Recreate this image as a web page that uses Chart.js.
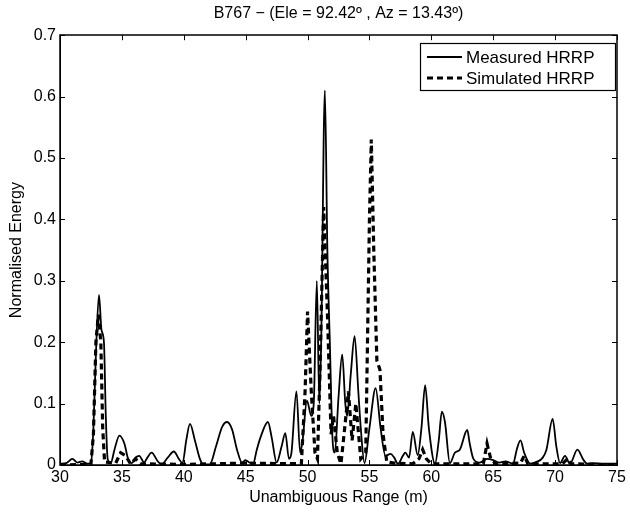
<!DOCTYPE html>
<html>
<head>
<meta charset="utf-8">
<script src="https://cdn.jsdelivr.net/npm/chart.js@4/dist/chart.umd.min.js"></script>
<style>
  html, body { margin: 0; padding: 0; background: #fff; }
  #wrap { width: 630px; height: 515px; }
</style>
</head>
<body>
<div id="wrap"><canvas id="hrrpChart" width="630" height="515"></canvas></div>
<script>
// Measured HRRP (solid line)
const measuredRange = [30.0, 30.5, 31.0, 31.4, 31.8, 32.2, 32.5, 32.7, 32.9, 33.15, 33.35, 33.55, 33.7, 33.85, 34.1, 34.4, 34.8, 35.2, 35.5, 35.8,
  36.1, 36.4, 36.8, 37.0, 37.4, 37.9, 38.2, 38.7, 39.2, 39.6, 39.9, 40.2, 40.5, 40.9, 41.3, 41.6, 42.1, 42.6, 43.1, 43.5,
  43.9, 44.3, 44.7, 45.0, 45.3, 45.6, 45.9, 46.2, 46.8, 47.1, 47.5, 47.9, 48.2, 48.5, 48.7, 49.1, 49.4, 49.6, 49.95, 50.3,
  50.5, 50.75, 50.95, 51.1, 51.4, 51.6, 51.8, 52.0, 52.2, 52.5, 52.8, 53.05, 53.2, 53.5, 53.8, 54.1, 54.3, 54.6, 55.0, 55.5,
  55.9, 56.3, 56.7, 57.0, 57.3, 57.7, 57.9, 58.2, 58.5, 58.9, 59.2, 59.5, 59.8, 60.3, 60.6, 60.85, 61.1, 61.5, 61.9, 62.3,
  62.9, 63.1, 63.4, 63.9, 64.5, 65.0, 65.5, 66.0, 66.6, 66.9, 67.2, 67.5, 68.0, 68.5, 69.0, 69.3, 69.8, 70.1, 70.4, 70.8,
  71.2, 71.8, 72.3, 72.6, 73.0, 74.0, 75.0];
const measuredEnergy = [0.002, 0.003, 0.010, 0.004, 0.006, 0.002, 0.004, 0.06, 0.18, 0.277, 0.22, 0.20, 0.08, 0.01, 0.003, 0.025, 0.048, 0.035, 0.01, 0.003,
  0.012, 0.015, 0.004, 0.01, 0.02, 0.006, 0.001, 0.012, 0.022, 0.01, 0.003, 0.04, 0.067, 0.04, 0.01, 0.001, 0.001, 0.03, 0.062, 0.07,
  0.058, 0.025, 0.004, 0.008, 0.004, 0.002, 0.025, 0.045, 0.07, 0.045, 0.004, 0.03, 0.052, 0.01, 0.02, 0.12, 0.02, 0.04, 0.105, 0.08,
  0.10, 0.30, 0.10, 0.20, 0.61, 0.35, 0.20, 0.05, 0.02, 0.11, 0.18, 0.10, 0.08, 0.15, 0.21, 0.12, 0.06, 0.003, 0.06, 0.125,
  0.06, 0.015, 0.018, 0.012, 0.002, 0.015, 0.02, 0.012, 0.054, 0.016, 0.06, 0.13, 0.06, 0.002, 0.04, 0.087, 0.07, 0.003, 0.02, 0.025,
  0.057, 0.035, 0.01, 0.004, 0.01, 0.008, 0.004, 0.006, 0.002, 0.025, 0.04, 0.02, 0.002, 0.005, 0.012, 0.025, 0.075, 0.03, 0.003, 0.015,
  0.002, 0.025, 0.008, 0.002, 0.003, 0.002, 0.002];

// Simulated HRRP (dashed line)
const simulatedRange = [30.0, 32.5, 32.7, 32.9, 33.1, 33.3, 33.45, 33.6, 34.5, 34.9, 35.3, 35.7, 36.1, 36.5, 40.0, 45.0, 49.5, 49.8, 50.0, 50.3,
  50.6, 50.8, 51.0, 51.3, 51.6, 51.9, 52.1, 52.4, 52.7, 53.0, 53.3, 53.6, 53.9, 54.3, 54.7, 55.0, 55.15, 55.35, 55.6, 55.85,
  56.1, 56.4, 57.0, 58.5, 59.0, 59.3, 59.6, 60.0, 64.2, 64.5, 64.8, 65.2, 67.2, 67.5, 67.8, 70.6, 71.0, 71.3, 75.0];
const simulatedEnergy = [0.0, 0.001, 0.05, 0.20, 0.245, 0.20, 0.06, 0.005, 0.003, 0.02, 0.015, 0.002, 0.01, 0.002, 0.001, 0.003, 0.002, 0.12, 0.25, 0.12,
  0.02, 0.01, 0.15, 0.42, 0.25, 0.05, 0.08, 0.02, 0.002, 0.06, 0.12, 0.04, 0.10, 0.01, 0.02, 0.40, 0.53, 0.35, 0.17, 0.155,
  0.05, 0.005, 0.003, 0.002, 0.01, 0.025, 0.01, 0.002, 0.002, 0.035, 0.01, 0.002, 0.003, 0.015, 0.002, 0.002, 0.01, 0.002, 0.0];

const xTicks = [30, 35, 40, 45, 50, 55, 60, 65, 70, 75];
const yTicks = [0, 0.1, 0.2, 0.3, 0.4, 0.5, 0.6, 0.7];
const seriesNames = ['Measured HRRP', 'Simulated HRRP'];

const FONT = 'Liberation Sans, Arial, sans-serif';

function toPoints(xs, ys) {
  return xs.map((x, i) => ({ x: x, y: ys[i] }));
}

// Matlab-like frame: full box, inward ticks on all sides, boxed legend
const frameAndLegend = {
  id: 'frameAndLegend',
  afterDraw(chart) {
    const ctx = chart.ctx;
    const a = chart.chartArea;
    const xs = chart.scales.x, ys = chart.scales.y;
    const tick = 5;
    ctx.save();
    ctx.strokeStyle = '#000';
    ctx.lineWidth = 1;
    ctx.beginPath();
    xTicks.forEach(v => {
      const px = Math.round(xs.getPixelForValue(v)) + 0.5;
      ctx.moveTo(px, a.bottom); ctx.lineTo(px, a.bottom - tick);
      ctx.moveTo(px, a.top); ctx.lineTo(px, a.top + tick);
    });
    yTicks.forEach(v => {
      const py = Math.round(ys.getPixelForValue(v)) + 0.5;
      ctx.moveTo(a.left, py); ctx.lineTo(a.left + tick, py);
      ctx.moveTo(a.right, py); ctx.lineTo(a.right - tick, py);
    });
    ctx.stroke();
    ctx.lineWidth = 1.5;
    ctx.strokeRect(Math.round(a.left), Math.round(a.top), Math.round(a.right - a.left), Math.round(a.bottom - a.top));

    // legend
    const lx = 420, ly = 43, lw = 195, lh = 47;
    ctx.fillStyle = '#fff';
    ctx.fillRect(lx, ly, lw, lh);
    ctx.lineWidth = 1.2;
    ctx.strokeRect(lx + 0.5, ly + 0.5, lw, lh);
    chart.data.datasets.forEach((ds, i) => {
      const ry = ly + 14 + i * 21;
      ctx.beginPath();
      ctx.strokeStyle = '#000';
      ctx.lineWidth = ds.borderWidth;
      ctx.setLineDash(ds.borderDash || []);
      ctx.moveTo(lx + 7, ry);
      ctx.lineTo(lx + 42, ry);
      ctx.stroke();
      ctx.setLineDash([]);
      ctx.fillStyle = '#000';
      ctx.font = '17px ' + FONT;
      ctx.textBaseline = 'middle';
      ctx.textAlign = 'left';
      ctx.fillText(ds.label, lx + 46, ry + 1);
    });
    ctx.restore();
  }
};

const ctx = document.getElementById('hrrpChart').getContext('2d');
new Chart(ctx, {
  type: 'line',
  data: {
    datasets: [
      {
        label: seriesNames[0],
        data: toPoints(measuredRange, measuredEnergy),
        borderColor: '#000',
        borderWidth: 1.8,
        pointRadius: 0,
        cubicInterpolationMode: 'monotone',
        fill: false
      },
      {
        label: seriesNames[1],
        data: toPoints(simulatedRange, simulatedEnergy),
        borderColor: '#000',
        borderWidth: 3.2,
        borderDash: [6, 4],
        pointRadius: 0,
        tension: 0,
        fill: false
      }
    ]
  },
  options: {
    responsive: false,
    animation: false,
    devicePixelRatio: 1,
    layout: { padding: { left: 0, right: 13, top: 0, bottom: 0 } },
    plugins: {
      legend: { display: false },
      tooltip: { enabled: false },
      title: {
        display: true,
        fullSize: false,
        text: 'B767 \u2212 (Ele = 92.42\u00ba , Az = 13.43\u00ba)',
        color: '#000',
        font: { family: FONT, size: 16, weight: 'normal' },
        padding: { top: 4, bottom: 12 }
      }
    },
    scales: {
      x: {
        type: 'linear',
        min: 30,
        max: 75,
        afterFit(scale) { scale.height = 50; },
        afterBuildTicks(scale) { scale.ticks = xTicks.map(v => ({ value: v })); },
        grid: { display: false, drawTicks: false },
        border: { display: true, color: '#000', width: 1 },
        ticks: { color: '#000', padding: 3, maxRotation: 0, font: { family: FONT, size: 16 } },
        title: { display: true, text: 'Unambiguous Range (m)', color: '#000', padding: { top: 0, bottom: 8 }, font: { family: FONT, size: 16 } }
      },
      y: {
        min: 0,
        max: 0.7,
        afterFit(scale) { scale.width = 60; },
        afterBuildTicks(scale) { scale.ticks = yTicks.map(v => ({ value: v })); },
        grid: { display: false, drawTicks: false },
        border: { display: true, color: '#000', width: 1 },
        ticks: { color: '#000', padding: 4, font: { family: FONT, size: 16 }, callback: v => String(Math.round(v * 10) / 10) },
        title: { display: true, text: 'Normalised Energy', color: '#000', padding: { top: 7, bottom: 0 }, font: { family: FONT, size: 16 } }
      }
    }
  },
  plugins: [frameAndLegend]
});
</script>
</body>
</html>
